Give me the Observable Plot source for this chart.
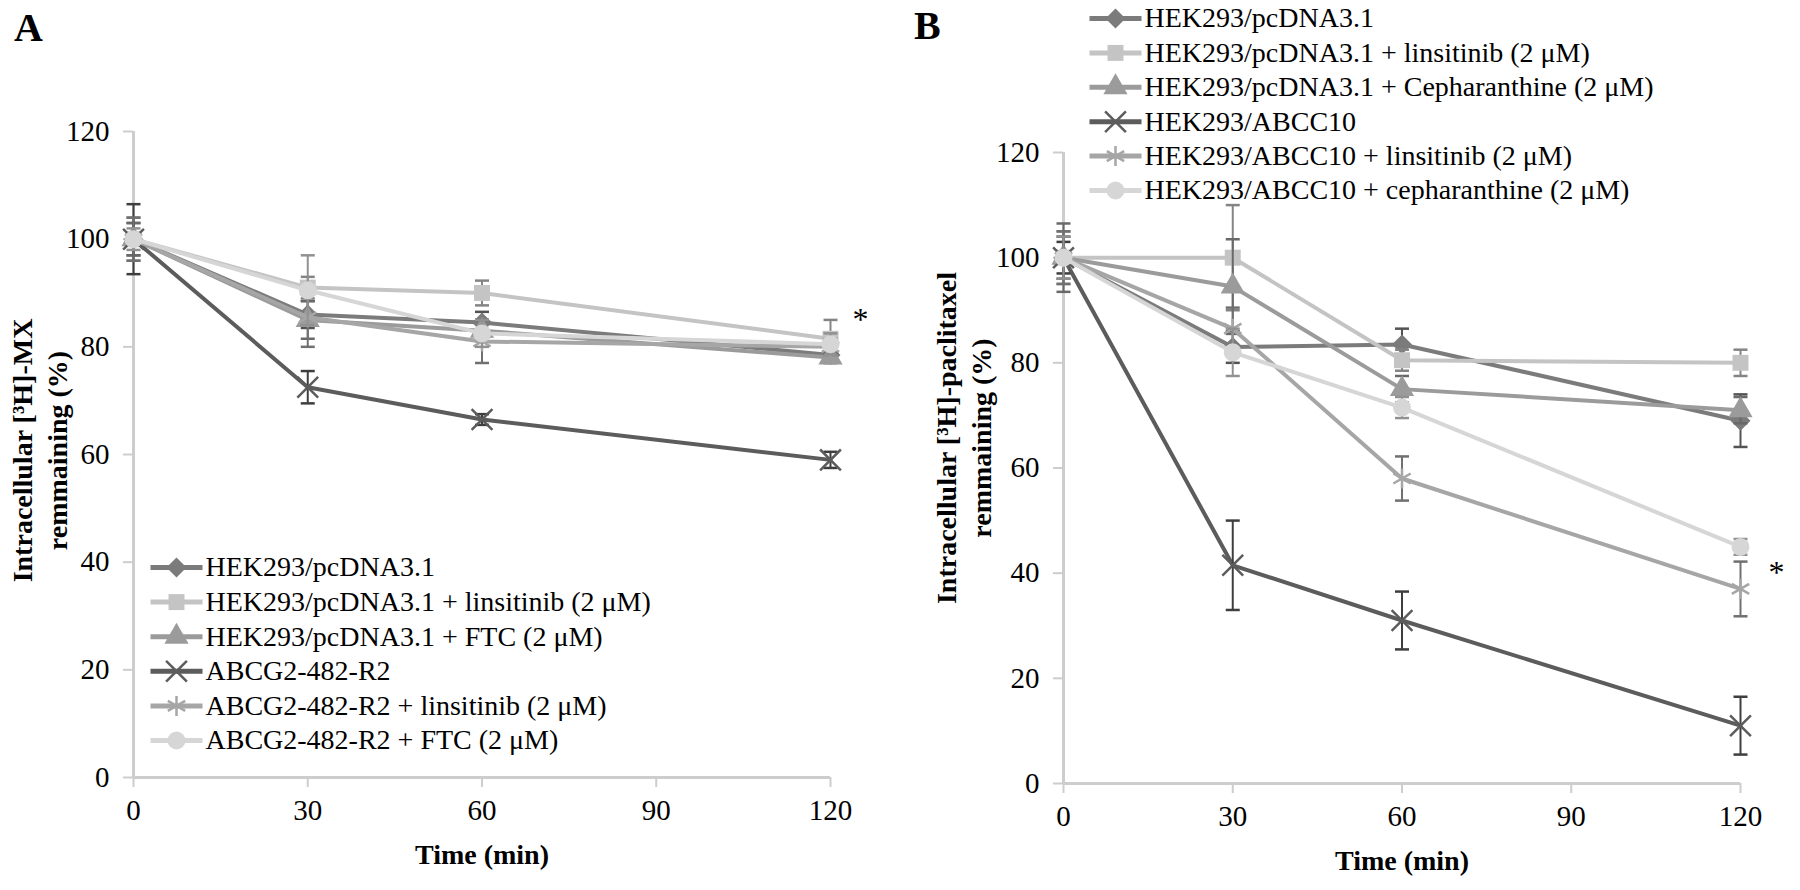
<!DOCTYPE html>
<html><head><meta charset="utf-8">
<script src="https://cdn.jsdelivr.net/npm/d3@7"></script>
<script src="https://cdn.jsdelivr.net/npm/@observablehq/plot@0.6"></script>
<style>
body{margin:0;background:#fff;}
#wrap{position:relative;width:1800px;height:890px;overflow:hidden;background:#fff;}
.panel{position:absolute;top:0;}
.letter{position:absolute;font-weight:bold;font-size:40px;line-height:48px;font-family:"Liberation Serif",serif;color:#000;}
</style></head><body>
<div id="wrap"></div>
<script>
// ---------- data ----------
const times = [0, 30, 60, 120];
const xTicks = [0, 30, 60, 90, 120];
const yTicks = [0, 20, 40, 60, 80, 100, 120];

const seriesA = [
  "HEK293/pcDNA3.1",
  "HEK293/pcDNA3.1 + linsitinib (2 μM)",
  "HEK293/pcDNA3.1 + FTC (2 μM)",
  "ABCG2-482-R2",
  "ABCG2-482-R2 + linsitinib (2 μM)",
  "ABCG2-482-R2 + FTC (2 μM)"
];
const valuesA = [
  [100, 86, 84.5, 78.5],
  [100, 91, 90, 81.5],
  [100, 85, 83, 78],
  [100, 72.5, 66.5, 59],
  [100, 85.5, 81, 80],
  [100, 90.5, 82.5, 80.5]
];
const errorsA = [
  [3, 2.5, 2, 1.5],
  [4, 2, 2.3, 3.5],
  [3, 3.5, 2, 1],
  [6.5, 3, 1, 1.5],
  [4, 5.5, 4, 1.5],
  [2, 6.5, 2.5, 2]
];

const seriesB = [
  "HEK293/pcDNA3.1",
  "HEK293/pcDNA3.1 + linsitinib (2 μM)",
  "HEK293/pcDNA3.1 + Cepharanthine (2 μM)",
  "HEK293/ABCC10",
  "HEK293/ABCC10 + linsitinib (2 μM)",
  "HEK293/ABCC10 + cepharanthine (2 μM)"
];
const valuesB = [
  [100, 83, 83.5, 69],
  [100, 100, 80.5, 80],
  [100, 94.5, 75, 71],
  [100, 41.5, 31, 11],
  [100, 86.5, 58, 37],
  [100, 82, 71.5, 45]
];
const errorsB = [
  [4, 3, 3, 5],
  [5, 10, 2, 2.5],
  [6.5, 9, 2.5, 2.5],
  [3, 8.5, 5.5, 5.5],
  [5, 4, 4.2, 5.2],
  [4, 4.5, 2, 1.5]
];

const colors = ["#7b7b7b", "#c4c4c4", "#9b9b9b", "#5c5c5c", "#a6a6a6", "#d6d6d6"];
const symbols = ["diamond2", "square", "triangle", "times", "asterisk", "circle"];
const filled = [true, true, true, false, false, true];

const starA = [{t: 120, v: 85}];
const starB = [{t: 120, v: 40}];

const titleA = "Intracellular [³H]-MX\nremmaining (%)";
const titleB = "Intracellular [³H]-paclitaxel\nremmaining (%)";

// ---------- helpers ----------
const capSymbol = {draw(ctx) { ctx.moveTo(-7, 0); ctx.lineTo(7, 0); }};
const legendLine = {draw(ctx) { ctx.moveTo(-26, 0); ctx.lineTo(26, 0); }};
const FONT = "Liberation Serif, Times New Roman, serif";

function rows(vals, errs) {
  return vals.map((vs, s) => vs.map((v, i) => ({s, t: times[i], v, lo: v - errs[s][i], hi: v + errs[s][i]})));
}

function markerOpts(s) {
  return filled[s]
    ? {symbol: symbols[s], fill: colors[s], stroke: "none", r: 9}
    : {symbol: symbols[s], fill: "none", stroke: colors[s], strokeWidth: 2.5, r: 9.5};
}

function panel({names, vals, errs, margins, star, starDx, title, titleDx, titleDy, legDx, legDy, legStep}) {
  const data = rows(vals, errs);
  const marks = [
    Plot.ruleX([0], {stroke: "#cdcdcd", strokeWidth: 3}),
    Plot.ruleY([0], {stroke: "#cdcdcd", strokeWidth: 3}),
    Plot.axisY({ticks: yTicks, tickSize: 10, tickPadding: 14, stroke: "#cdcdcd", strokeWidth: 2, fill: "#000", fontSize: 29, label: null}),
    Plot.axisX({ticks: xTicks, tickSize: 10, tickPadding: 12, stroke: "#cdcdcd", strokeWidth: 2, fill: "#000", fontSize: 29, label: null}),
    Plot.text(["Time (min)"], {frameAnchor: "bottom", dy: 86, text: d => d, fontSize: 28, fontWeight: "bold", fill: "#000"}),
    Plot.text([title], {frameAnchor: "left", dx: titleDx, dy: titleDy, rotate: -90, textAnchor: "middle", lineAnchor: "middle", text: d => d, fontSize: 28, fontWeight: "bold", lineHeight: 1.25, fill: "#000", style: "letter-spacing:1px"})
  ];
  data.forEach((d, s) => {
    const dark = d3.color(colors[s]).darker(1.1).formatHex();
    marks.push(Plot.line(d, {x: "t", y: "v", stroke: colors[s], strokeWidth: 4}));
    marks.push(Plot.ruleX(d, {x: "t", y1: "lo", y2: "hi", stroke: dark, strokeWidth: 2}));
    marks.push(Plot.dot(d, {x: "t", y: "hi", symbol: capSymbol, r: 5, stroke: dark, strokeWidth: 2.5}));
    marks.push(Plot.dot(d, {x: "t", y: "lo", symbol: capSymbol, r: 5, stroke: dark, strokeWidth: 2.5}));
    marks.push(Plot.dot(d, {x: "t", y: "v", ...markerOpts(s)}));
  });
  marks.push(Plot.text(star, {x: "t", y: "v", text: () => "*", dx: starDx, fontSize: 32, fill: "#000"}));
  names.forEach((name, s) => {
    const dy = legDy + s * legStep;
    marks.push(Plot.dot([name], {frameAnchor: "top-left", dx: legDx, dy, symbol: legendLine, r: 5, stroke: colors[s], strokeWidth: 5}));
    marks.push(Plot.dot([name], {frameAnchor: "top-left", dx: legDx, dy, ...markerOpts(s)}));
    marks.push(Plot.text([name], {frameAnchor: "top-left", dx: legDx + 29, dy, text: d => d, textAnchor: "start", lineAnchor: "middle", fontSize: 28, fill: "#000"}));
  });
  const svg = Plot.plot({
    width: 900, height: 890,
    marginLeft: margins[0], marginRight: margins[1], marginTop: margins[2], marginBottom: margins[3],
    x: {domain: [0, 120]}, y: {domain: [0, 120]},
    style: {fontFamily: FONT, background: "transparent", overflow: "visible"},
    marks
  });
  return svg;
}

const wrap = document.getElementById("wrap");

const A = panel({
  names: seriesA, vals: valuesA, errs: errorsA,
  margins: [133, 70, 131, 113],
  star: starA, starDx: 30,
  title: titleA, titleDx: -95, titleDy: -4,
  legDx: 43, legDy: 436, legStep: 34.6
});
A.classList.add("panel"); A.style.left = "0px";
wrap.appendChild(A);

const B = panel({
  names: seriesB, vals: valuesB, errs: errorsB,
  margins: [163, 60, 152, 107],
  star: starB, starDx: 36,
  title: titleB, titleDx: -101, titleDy: -30,
  legDx: 52, legDy: -134, legStep: 34.4
});
B.classList.add("panel"); B.style.left = "900px";
wrap.appendChild(B);

const la = document.createElement("div"); la.className = "letter"; la.textContent = "A";
la.style.left = "14px"; la.style.top = "4px"; wrap.appendChild(la);
const lb = document.createElement("div"); lb.className = "letter"; lb.textContent = "B";
lb.style.left = "914px"; lb.style.top = "2px"; wrap.appendChild(lb);
</script>
</body></html>
